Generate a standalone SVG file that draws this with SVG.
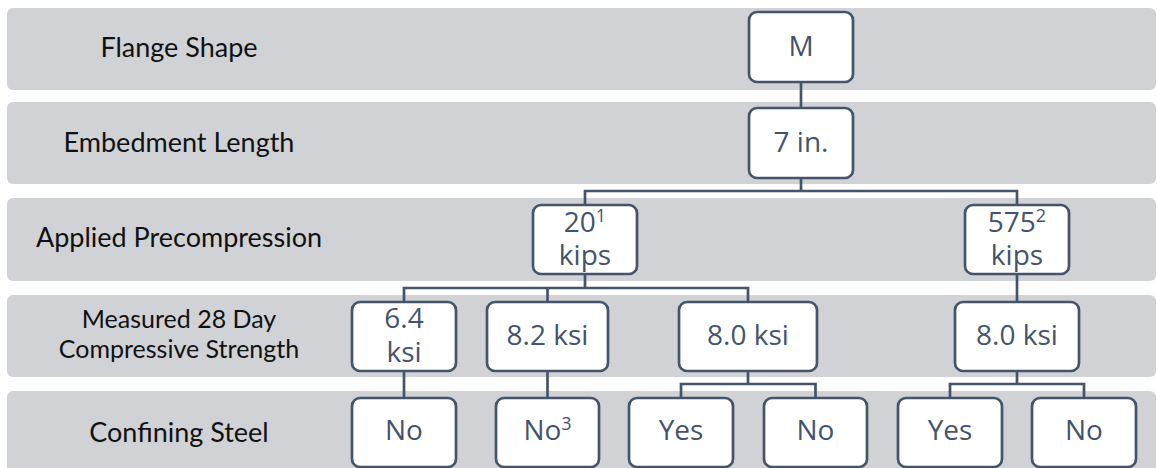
<svg xmlns="http://www.w3.org/2000/svg" width="1157" height="468" viewBox="0 0 1157 468">
  <style>
    .band { fill: #D0D2D6; }
    .lbl { font-family: Lato, "Open Sans", sans-serif; font-size: 27px; fill: #111111; text-anchor: middle; }
    .lbl-s { font-size: 25px; }
    .node rect { fill: #FFFFFF; stroke: #44546A; stroke-width: 2.7; }
    .node text { font-family: "Open Sans", "Liberation Sans", sans-serif; font-size: 28px; fill: #44546A; text-anchor: middle; }
    .sup { font-size: 18px; }
    .conn { fill: none; stroke: #44546A; stroke-width: 2.7; }
  </style>
  <rect width="1157" height="468" fill="#FFFFFF"/>
  <g id="bands">
    <rect class="band" x="7" y="8" width="1149" height="82" rx="6"/>
    <rect class="band" x="7" y="102" width="1149" height="82" rx="6"/>
    <rect class="band" x="7" y="198" width="1149" height="83" rx="6"/>
    <rect class="band" x="7" y="295" width="1149" height="82" rx="6"/>
    <rect class="band" x="7" y="391" width="1149" height="84" rx="6"/>
  </g>
  <g id="labels">
    <text class="lbl" x="179" y="57">Flange Shape</text>
    <text class="lbl" x="179" y="152">Embedment Length</text>
    <text class="lbl" x="179" y="247">Applied Precompression</text>
    <text class="lbl lbl-s" x="179" y="328">Measured 28 Day</text>
    <text class="lbl lbl-s" x="179" y="358">Compressive Strength</text>
    <text class="lbl" x="179" y="442">Confining Steel</text>
  </g>
  <g id="connectors">
    <path class="conn" d="M801 82 V108"/>
    <path class="conn" d="M801 178 V191 M585 205 V191 H1017 V205"/>
    <path class="conn" d="M585 274 V288 M404 302 V288 H748 V302 M547.5 288 V302"/>
    <path class="conn" d="M1017 274 V302"/>
    <path class="conn" d="M404 371 V398"/>
    <path class="conn" d="M547.5 371 V398"/>
    <path class="conn" d="M748 371 V384 M681 398 V384 H815.5 V398"/>
    <path class="conn" d="M1017 371 V384 M950 398 V384 H1084 V398"/>
  </g>
  <g id="n-m" class="node">
    <rect x="749" y="12" width="104" height="70" rx="8"/>
    <text x="801" y="56">M</text>
  </g>
  <g id="n-7in" class="node">
    <rect x="749" y="108" width="104" height="70" rx="8"/>
    <text x="801" y="152">7 in.</text>
  </g>
  <g id="n-20kips" class="node">
    <rect x="533" y="205" width="104" height="69" rx="8"/>
    <text x="585" y="232">20<tspan class="sup" dy="-10">1</tspan></text>
    <text x="585" y="265">kips</text>
  </g>
  <g id="n-575kips" class="node">
    <rect x="965" y="205" width="104" height="69" rx="8"/>
    <text x="1017" y="232">575<tspan class="sup" dy="-10">2</tspan></text>
    <text x="1017" y="265">kips</text>
  </g>
  <g id="n-64ksi" class="node">
    <rect x="352" y="302" width="104" height="69" rx="8"/>
    <text x="404" y="328">6.4</text>
    <text x="404" y="362">ksi</text>
  </g>
  <g id="n-82ksi" class="node">
    <rect x="487" y="302" width="121" height="69" rx="8"/>
    <text x="547.5" y="345">8.2 ksi</text>
  </g>
  <g id="n-80ksi-a" class="node">
    <rect x="679" y="302" width="138" height="69" rx="8"/>
    <text x="748" y="345">8.0 ksi</text>
  </g>
  <g id="n-80ksi-b" class="node">
    <rect x="955" y="302" width="124" height="69" rx="8"/>
    <text x="1017" y="345">8.0 ksi</text>
  </g>
  <g id="n-no-1" class="node">
    <rect x="352" y="398" width="104" height="69" rx="8"/>
    <text x="404" y="440">No</text>
  </g>
  <g id="n-no-2" class="node">
    <rect x="496" y="398" width="103" height="69" rx="8"/>
    <text x="547.5" y="440">No<tspan class="sup" dy="-10">3</tspan></text>
  </g>
  <g id="n-yes-1" class="node">
    <rect x="629" y="398" width="104" height="69" rx="8"/>
    <text x="681" y="440">Yes</text>
  </g>
  <g id="n-no-3" class="node">
    <rect x="764" y="398" width="103" height="69" rx="8"/>
    <text x="815.5" y="440">No</text>
  </g>
  <g id="n-yes-2" class="node">
    <rect x="898" y="398" width="104" height="69" rx="8"/>
    <text x="950" y="440">Yes</text>
  </g>
  <g id="n-no-4" class="node">
    <rect x="1032" y="398" width="104" height="69" rx="8"/>
    <text x="1084" y="440">No</text>
  </g>
</svg>
